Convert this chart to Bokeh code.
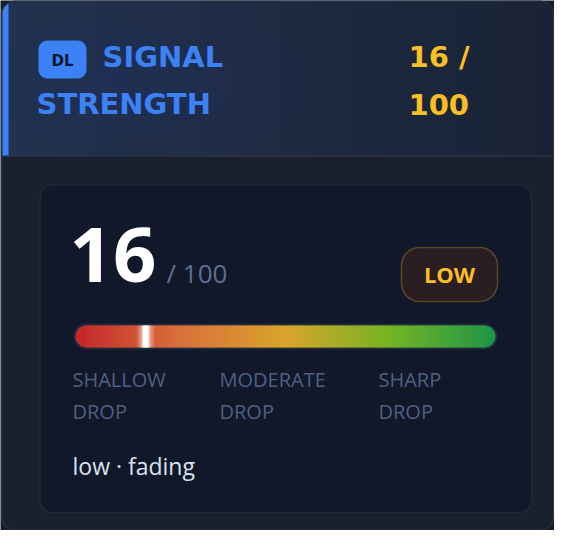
import numpy as np
from bokeh.plotting import figure
from bokeh.models import Range1d
from bokeh.core.properties import value
from bokeh.embed import file_html
from bokeh.resources import INLINE

# ---------------- data ----------------
title_lines = ["SIGNAL", "STRENGTH"]
badge_text = "DL"
score = 16
score_max = 100
score_lines = ["16 /", "100"]
level_label = "LOW"
scale_labels_top = ["SHALLOW", "MODERATE", "SHARP"]
scale_labels_bottom = ["DROP", "DROP", "DROP"]
status_text = "low · fading"
gradient_stops = [0, 25, 50, 75, 100]
gradient_colors = ["#c4282b", "#d9703c", "#d9a52a", "#74b424", "#1e9547"]

# ---------------- layout constants (photo pixel coords) ----------------
W, H = 554, 530
BAR_L, BAR_R = 75, 495
BAR_T, BAR_B = 325, 347
PX_PER = (BAR_R - BAR_L) / score_max

SANS = value("Open Sans")
HEAD = value("DejaVu Sans")
K_HEAD = 0.35   # middle -> baseline offset (em) DejaVu
K_SANS = 0.37   # Open Sans

p = figure(width=W, height=H,
           x_range=Range1d(0, W), y_range=Range1d(H, 0),
           output_backend="svg", toolbar_location=None, tools="",
           x_axis_location=None, y_axis_location=None, min_border=0)
p.grid.visible = False
p.outline_line_color = None
p.background_fill_color = "#161c28"
p.border_fill_color = "#161c28"
p.extra_x_ranges = {"pct": Range1d((0 - BAR_L) / PX_PER, (W - BAR_L) / PX_PER)}


def hexrgb(h):
    h = h.lstrip("#")
    return np.array([int(h[i:i + 2], 16) for i in (0, 2, 4)], dtype=float)


def tohex(c):
    return "#%02x%02x%02x" % tuple(int(round(v)) for v in c)


def rrect(x0, y0, x1, y1, r, n=10):
    xs, ys = [], []
    corners = [(x1 - r, y0 + r, -90, 0), (x1 - r, y1 - r, 0, 90),
               (x0 + r, y1 - r, 90, 180), (x0 + r, y0 + r, 180, 270)]
    for cx, cy, a0, a1 in corners:
        for a in np.linspace(np.radians(a0), np.radians(a1), n):
            xs.append(cx + r * np.cos(a))
            ys.append(cy + r * np.sin(a))
    return xs, ys


def txt(x, y_base, text, font, size, color, k, bold=False, align="left"):
    p.text(x=x, y=[b - k * size for b in y_base], text=text, text_font=font,
           text_font_style="bold" if bold else "normal", text_font_size="%dpx" % size,
           text_color=color, text_align=align, text_baseline="middle")


# ---------------- card ----------------
CR = 14
CX0, CY0, CX1, CY1 = 1, 0.5, W - 1, H - 0.5
cx, cy = rrect(CX0, CY0, CX1, CY1, CR)
p.patch(cx, cy, fill_color="#1a202d", line_color=None)


def corner_top(x):
    d = 0
    if x < CX0 + CR:
        d = CX0 + CR - x
    elif x > CX1 - CR:
        d = x - (CX1 - CR)
    return CY0 + CR - np.sqrt(max(0.0, CR ** 2 - d ** 2)) if d > 0 else CY0


# header gradient, clipped to rounded top corners
HB = 155
edges = np.arange(CX0, CX1, 2.0)
cl, cr_ = hexrgb("#223250"), hexrgb("#1a2335")
cols = [tohex(cl * (1 - t) + cr_ * t) for t in (edges + 1 - CX0) / (CX1 - CX0)]
p.quad(left=edges, right=np.minimum(edges + 2.0, CX1), top=[corner_top(e + 1) for e in edges],
       bottom=[HB] * len(edges), fill_color=cols, line_color=cols, line_width=1.0)
# soft glow behind title
for s in np.linspace(1.0, 0.35, 7):
    p.ellipse(x=[150], y=[82], width=320 * s, height=140 * s, fill_color="#2c4678",
              fill_alpha=0.03, line_color=None)

p.segment(x0=[CX0], y0=[HB + 0.5], x1=[CX1], y1=[HB + 0.5], line_color="#2a3447", line_width=1.5)
# accent bar following the card corner
ax = np.linspace(2, 8, 7)
p.patch(list(ax) + [8, 2], [corner_top(v) + 0.5 for v in ax] + [HB, HB],
        fill_color="#3b82f6", line_color=None)
p.patch(cx, cy, fill_color=None, line_color="#273247", line_width=1.2)

# ---------------- header content ----------------
bx, by = rrect(38, 40, 86, 78, 9)
p.patch(bx, by, fill_color="#3b82f6", line_color=None)
txt([62], [66], [badge_text], HEAD, 15, "#0f172a", K_HEAD, bold=True, align="center")
txt([102, 36], [67, 114], title_lines, HEAD, 29, "#3b82f6", K_HEAD, bold=True)
txt([408, 408], [67, 114], score_lines, HEAD, 29, "#fbbf24", K_HEAD, bold=True)

# ---------------- inner panel ----------------
px_, py_ = rrect(39.5, 184.5, 531, 512, 12)
p.patch(px_, py_, fill_color="#10182a", line_color="#1f2a3d", line_width=1.5)

txt([69], [283], [str(score)], SANS, 76, "#ffffff", K_SANS, bold=True)
txt([166], [282], ["/ %d" % score_max], SANS, 26, "#5e7090", K_SANS)

lx, ly = rrect(401, 247, 497, 301, 18)
p.patch(lx, ly, fill_color="#2a1e22", line_color="#5a4624", line_width=1.6)
txt([449], [282], [level_label], SANS, 22, "#fbbf24", K_SANS, bold=True, align="center")

# ---------------- gradient bar ----------------
cap = (BAR_B - BAR_T) / 2 / PX_PER
ymid = (BAR_T + BAR_B) / 2
stop_rgb = np.array([hexrgb(c) for c in gradient_colors])


def grad(v):
    return tohex([np.interp(v, gradient_stops, stop_rgb[:, k]) for k in range(3)])


# border pill
p.quad(left=[cap], right=[score_max - cap], top=[BAR_T - 2], bottom=[BAR_B + 2],
       fill_color="#1f2a3d", line_color=None, x_range_name="pct")
p.scatter(x=[cap, score_max - cap], y=[ymid, ymid], size=BAR_B - BAR_T + 4,
          marker="circle", fill_color="#1f2a3d", line_color=None, x_range_name="pct")
# fill
p.scatter(x=[cap, score_max - cap], y=[ymid, ymid], size=BAR_B - BAR_T,
          marker="circle", fill_color=[grad(0), grad(score_max)], line_color=None, x_range_name="pct")
steps = np.linspace(cap, score_max - cap, 181)
bar_cols = [grad((a + b) / 2) for a, b in zip(steps[:-1], steps[1:])]
p.quad(left=steps[:-1], right=steps[1:] + 0.25, top=[BAR_T] * 180, bottom=[BAR_B] * 180,
       fill_color=bar_cols, line_color=None, x_range_name="pct")

# marker with glow
mw = 6 / PX_PER
for g, a in [(6, 0.12), (4, 0.2), (2, 0.35)]:
    p.quad(left=[score - g / PX_PER], right=[score + mw + g / PX_PER], top=[BAR_T], bottom=[BAR_B],
           fill_color="#ffffff", fill_alpha=a, line_color=None, x_range_name="pct")
p.quad(left=[score], right=[score + mw], top=[BAR_T], bottom=[BAR_B],
       fill_color="#ffffff", line_color=None, x_range_name="pct")

# ---------------- scale labels ----------------
col_x = [72, 219, 378]
txt(col_x, [386] * 3, scale_labels_top, SANS, 20, "#4f6080", K_SANS)
txt(col_x, [418] * 3, scale_labels_bottom, SANS, 20, "#4f6080", K_SANS)
txt([72], [474], [status_text], SANS, 23, "#dbe3f0", K_SANS)

open("out.html", "w").write(file_html(p, INLINE))
